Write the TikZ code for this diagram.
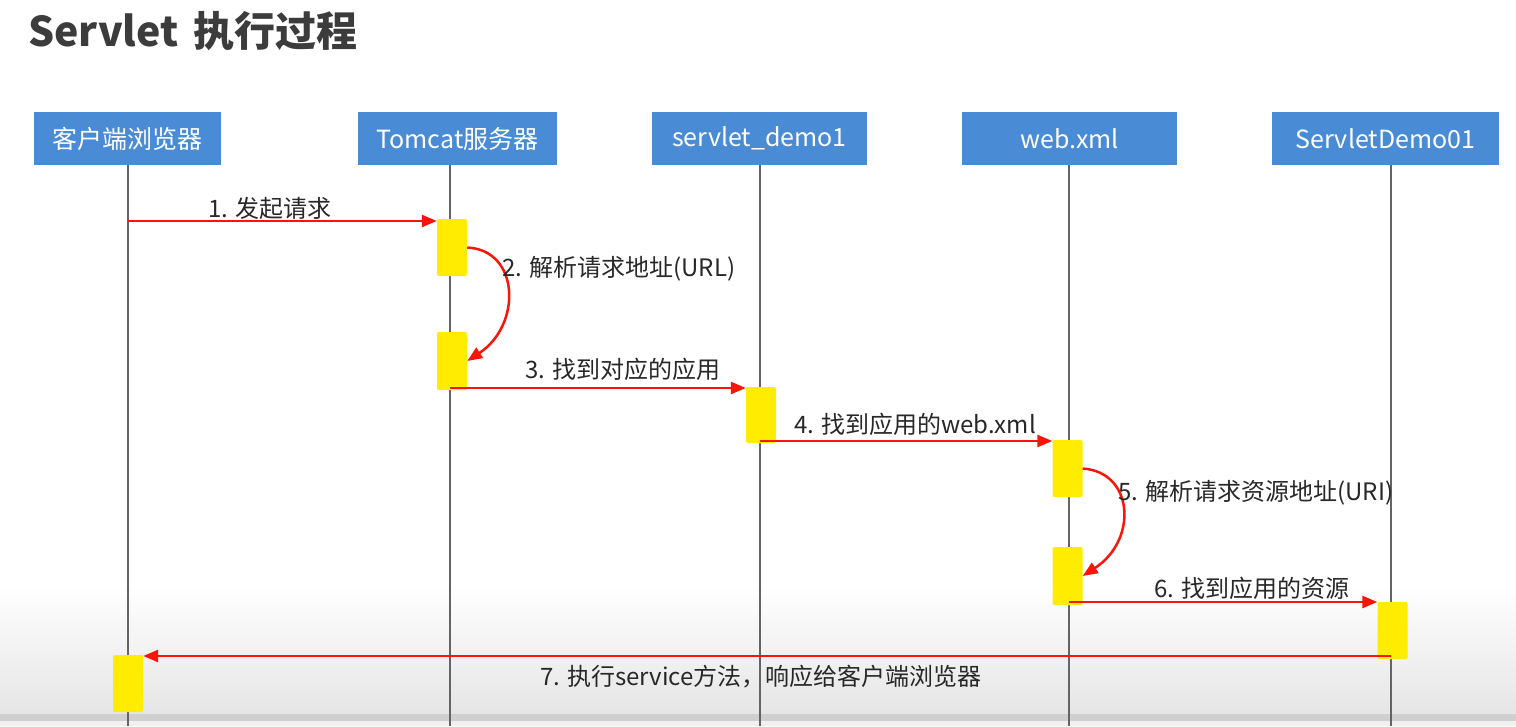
\documentclass[tikz,border=0pt]{standalone}
\usepackage{fontspec}
\setmainfont{Noto Sans CJK SC}
\usetikzlibrary{arrows.meta}
\definecolor{hdrblue}{RGB}{74,139,214}
\definecolor{actyellow}{RGB}{255,236,0}
\definecolor{msgred}{RGB}{250,20,10}
\definecolor{lifegray}{RGB}{100,100,100}
\definecolor{txtdark}{RGB}{40,40,40}
\definecolor{titlegray}{RGB}{60,60,60}
\tikzset{
  hdr/.style={fill=hdrblue, text=white, font=\fontsize{25}{29}\selectfont, inner sep=0pt, minimum height=53pt},
  life/.style={draw=lifegray, line width=2.2pt},
  act/.style={fill=actyellow, rounded corners=2pt, minimum width=30pt, inner sep=0pt},
  msg/.style={draw=msgred, line width=2.5pt, -{Triangle[length=15pt,width=12pt]}},
  lbl/.style={text=txtdark, font=\fontsize{24}{28}\selectfont, inner sep=0pt}
}
\begin{document}
\begin{tikzpicture}[x=1pt,y=-1pt]
\useasboundingbox (0,0) rectangle (1516,726);
\fill[white] (0,0) rectangle (1516,726);
% screenshot shading at the bottom
\shade[top color=white, bottom color=black!10] (0,585) rectangle (1516,714);
\fill[black!19] (0,714) rectangle (1516,721);
\fill[black!6] (0,721) rectangle (1516,726);

% title
\node[anchor=base west, inner sep=0pt, text=titlegray, font=\fontsize{41}{48}\selectfont\bfseries] (title) at (28,46) {Servlet\hspace{0.35em}执行过程};

% headers
\node[hdr, minimum width=187pt] (h1) at (127.5,138.5) {客户端浏览器};
\node[hdr, minimum width=199pt] (h2) at (457.5,138.5) {Tomcat服务器};
\node[hdr, minimum width=215pt] (h3) at (759.5,138.5) {servlet\_demo1};
\node[hdr, minimum width=215pt] (h4) at (1069.5,138.5) {web.xml};
\node[hdr, minimum width=227pt] (h5) at (1385.5,138.5) {ServletDemo01};

% lifeline bottoms
\coordinate (b1) at (128,726);
\coordinate (b2) at (450,726);
\coordinate (b3) at (760,726);
\coordinate (b4) at (1069,726);
\coordinate (b5) at (1391,726);
\draw[life] (b1 |- h1.south) -- (b1);
\draw[life] (b2 |- h2.south) -- (b2);
\draw[life] (b3 |- h3.south) -- (b3);
\draw[life] (b4 |- h4.south) -- (b4);
\draw[life] (b5 |- h5.south) -- (b5);

% activation boxes
\node[act, minimum height=57pt] (a1) at (452,247.5) {};
\node[act, minimum height=58pt] (a2) at (452,361) {};
\node[act, minimum height=56pt] (a3) at (761,415) {};
\node[act, minimum height=57pt] (a4) at (1067.5,468.5) {};
\node[act, minimum height=58pt] (a5) at (1067.5,576) {};
\node[act, minimum height=57pt] (a6) at (1392.5,630.5) {};
\node[act, minimum height=57pt] (a7) at (128,683.5) {};

% message start points on the lifelines
\coordinate (s1) at (128,221);
\coordinate (s3) at (450,388);
\coordinate (s4) at (760,441);
\coordinate (s6) at (1069,602);
\coordinate (s7) at (1391,656);

% messages
\draw[msg] (s1) -- (s1 -| a1.west);
\draw[msg] (a1.east) .. controls (520,250) and (522,325) .. (a2.east);
\draw[msg] (s3) -- (s3 -| a3.west);
\draw[msg] (s4) -- (s4 -| a4.west);
\draw[msg] (a4.east) .. controls (1134,472) and (1138,540) .. (a5.east);
\draw[msg] (s6) -- (s6 -| a6.west);
\draw[msg] (s7) -- (s7 -| a7.east);

% labels
\node[lbl, anchor=base] (m1) at (270,217) {1. 发起请求};
\node[lbl, anchor=base west] (m2) at (502,276) {2. 解析请求地址(URL)};
\node[lbl, anchor=base] (m3) at (623,378) {3. 找到对应的应用};
\node[lbl, anchor=base] (m4) at (915,433) {4. 找到应用的web.xml};
\node[lbl, anchor=base west] (m5) at (1118,500) {5. 解析请求资源地址(URI)};
\node[lbl, anchor=base] (m6) at (1252,597) {6. 找到应用的资源};
\node[lbl, anchor=base] (m7) at (761,685) {7. 执行service方法，响应给客户端浏览器};
\end{tikzpicture}
\end{document}
